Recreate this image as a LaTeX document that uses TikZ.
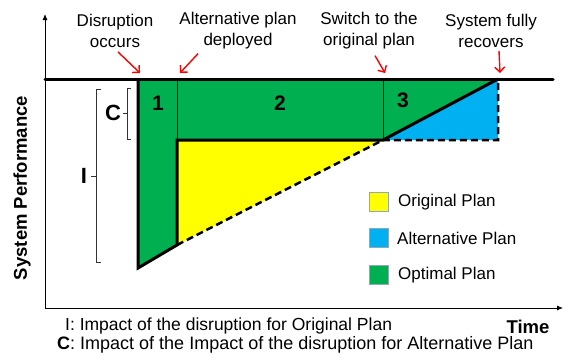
\documentclass[tikz,border=0pt]{standalone}
\usepackage{fontspec}
\setmainfont{Liberation Sans}
\usetikzlibrary{arrows.meta}
\definecolor{optgreen}{HTML}{00B050}
\definecolor{orgyellow}{HTML}{FFFF00}
\definecolor{altblue}{HTML}{00B0F0}
\definecolor{keyedge}{HTML}{8FA8BE}
\begin{document}
\begin{tikzpicture}[x=1pt,y=-1pt,
  note/.style={align=center,inner sep=0pt,font=\fontsize{17}{21}\selectfont},
  pointer/.style={red,line width=1.4pt,-{Straight Barb[length=5pt,width=10pt]}},
  keybox/.style={draw=keyedge,line width=0.8pt,minimum size=19pt,inner sep=0pt},
  keytext/.style={anchor=west,inner sep=0pt,font=\fontsize{17}{20}\selectfont},
  region/.style={inner sep=0pt,font=\fontsize{21}{21}\selectfont\bfseries},
  brk/.style={line width=0.5pt,black!80}]
\useasboundingbox (0,0) rectangle (569,357);
\coordinate (o) at (45,308); \coordinate (ytop) at (45,14); \coordinate (xend) at (563,308);
\coordinate (p0) at (45,79); \coordinate (pend) at (553,79);
\coordinate (dis) at (138,79); \coordinate (low) at (138,268);
\coordinate (dep) at (177,79); \coordinate (deplow) at (177,245); \coordinate (dephi) at (177,140);
\coordinate (sw) at (383,79); \coordinate (swlow) at (383,140);
\coordinate (rec) at (498,79); \coordinate (reclow) at (498,140);
\fill[optgreen] (dis) -- (rec) -- (swlow) -- (dephi) -- (deplow) -- (low) -- cycle;
\fill[orgyellow] (dephi) -- (swlow) -- (deplow) -- cycle;
\fill[altblue] (swlow) -- (rec) -- (reclow) -- cycle;
\draw[line width=0.7pt] (dep) -- (dephi); \draw[line width=0.7pt] (sw) -- (swlow);
\draw[line width=0.8pt,-{Latex[length=6pt,width=5pt]}] (o) -- (ytop);
\draw[line width=0.8pt,-{Latex[length=6pt,width=5pt]}] (o) -- (xend);
\draw[line width=3pt,line cap=round] (p0) -- (pend);
\draw[line width=3pt,line join=miter] (dis) -- (low) -- (deplow) -- (dephi) -- (swlow) -- (rec);
\draw[line width=2.5pt,dash pattern=on 7pt off 4pt] (deplow) -- (swlow) -- (reclow) -- (rec);
\node[region] (r1) at (158,103) {1}; \node[region] (r2) at (280,103) {2}; \node[region] (r3) at (403,100) {3};
\draw[brk] (131,88) -- (127,88) -- (127,139) -- (131,139); \draw[brk] (127,113) -- (123,113);
\node[region,font=\fontsize{22}{22}\selectfont\bfseries] (cl) at (113,113) {C};
\draw[brk] (101,89) -- (96,89) -- (96,262) -- (101,262); \draw[brk] (96,176) -- (91,176);
\node[region,font=\fontsize{22}{22}\selectfont\bfseries] (il) at (84,176) {I};
\node[note] (n1) at (115,31) {Disruption\\occurs};
\node[note] (n2) at (238,31) {Alternative plan\\deployed};
\node[note] (n3) at (369,31) {Switch to the\\original plan};
\node[note] (n4) at (491,31) {System fully\\recovers};
\coordinate (t1) at (140,73); \coordinate (t2) at (180,73); \coordinate (t3) at (385,73); \coordinate (t4) at (500,73);
\draw[pointer] ([xshift=3pt,yshift=-4pt]n1.south) -- (t1);
\draw[pointer] ([xshift=-40pt,yshift=-4pt]n2.south) -- (t2);
\draw[pointer] ([xshift=6pt,yshift=-6pt]n3.south) -- (t3);
\draw[pointer] ([xshift=8pt,yshift=-3pt]n4.south) -- (t4);
\node[keybox,fill=orgyellow] (k1) at (379,202) {}; \node[keytext] (k1t) at (398,202) {Original Plan};
\node[keybox,fill=altblue] (k2) at (379,238) {}; \node[keytext] (k2t) at (397,238) {Alternative Plan};
\node[keybox,fill=optgreen] (k3) at (379,275) {}; \node[keytext] (k3t) at (398,275) {Optimal Plan};
\node[rotate=90,inner sep=0pt,font=\fontsize{18.5}{20}\selectfont\bfseries] (ylab) at (22,188) {System Performance};
\node[inner sep=0pt,font=\fontsize{18.5}{20}\selectfont\bfseries] (xlab) at (528,327) {Time};
\node[anchor=west,inner sep=0pt,font=\fontsize{17.5}{20}\selectfont] (f1) at (65,326) {I: Impact of the disruption for Original Plan};
\node[anchor=west,inner sep=0pt,font=\fontsize{18}{20}\selectfont] (f2) at (57,345) {\textbf{C}: Impact of the Impact of the disruption for Alternative Plan};
\end{tikzpicture}
\end{document}
